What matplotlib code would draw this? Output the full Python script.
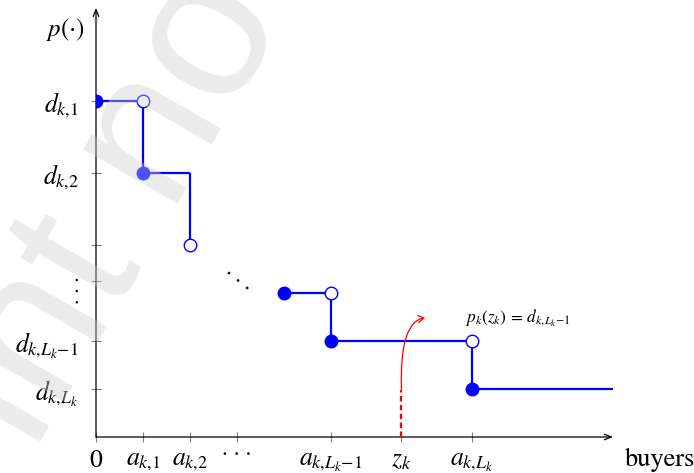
import matplotlib
matplotlib.use("Agg")
import matplotlib.pyplot as plt
from matplotlib.patches import FancyArrowPatch, Rectangle
from matplotlib.path import Path

plt.rcParams['mathtext.fontset'] = 'stix'
plt.rcParams['font.family'] = 'STIXGeneral'

# Treppenfunktion p(.)
step_left = [0, 1, 4, 5, 8]
step_right = [1, 2, 5, 8, 11]
step_price = [7, 5.5, 3, 2, 1]
drop_x = [1, 2, 5, 8]
drop_top = [7, 5.5, 3, 2]
drop_bottom = [5.5, 4, 2, 1]
open_x = [1, 2, 5, 8]
open_y = [7, 4, 3, 2]

# Achsenbeschriftungen ({,} und {-} ohne Extra-Abstand wie in LaTeX)
dots = '\u00b7 \u00b7 \u00b7'
xtick_pos = [0, 1, 2, 3, 5, 6.5, 8]
xtick_labels = ['$0$', '$a_{k{,}1}$', '$a_{k{,}2}$', '', '$a_{k{,}L_k{-}1}$', '$z_k$', '$a_{k{,}L_k}$']
ytick_pos = [7, 5.5, 4, 3.25, 2, 1]
ytick_labels = ['$d_{k{,}1}$', '$d_{k{,}2}$', '', '', '$d_{k{,}L_k{-}1}$', '$d_{k{,}L_k}$']

# z_k und der rote Pfeil
z_k = 6.5
z_top = 0.98
curve_ctrl = (6.45, 2.4)
curve_end = (7.0, 2.48)
x_max = 11.0
y_max = 8.94

blue = '#0000ff'

fig = plt.figure(figsize=(6.94, 4.73), dpi=100)
ax = fig.add_axes([0, 0, 1, 1])
ax.set_xlim(-96 / 47, 598 / 47)
ax.set_ylim(-36 / 48, 437 / 48)

for s in ['top', 'right']:
    ax.spines[s].set_visible(False)
for s in ['left', 'bottom']:
    ax.spines[s].set_position(('data', 0))
    ax.spines[s].set_color('none')

ax.set_xticks(xtick_pos, xtick_labels)
ax.set_yticks(ytick_pos, ytick_labels)
ax.tick_params(axis='both', direction='inout', length=7, width=0.8, color='#808080', labelsize=18.5)
ax.tick_params(axis='x', pad=5)
ax.tick_params(axis='y', pad=9)

# Achsen mit Pfeilspitzen
ax.annotate('', xy=(x_max, 0), xytext=(0, 0),
            arrowprops=dict(arrowstyle='->,head_length=0.5,head_width=0.2', lw=0.9, color='black',
                            shrinkA=0, shrinkB=0))
ax.annotate('', xy=(0, y_max), xytext=(0, 0),
            arrowprops=dict(arrowstyle='->,head_length=0.5,head_width=0.2', lw=0.9, color='black',
                            shrinkA=0, shrinkB=0))

clip = Rectangle((0, -1), 20, 20, transform=ax.transData)

arts = []
arts += ax.hlines(step_price, step_left, step_right, color=blue, lw=1.6, zorder=3),
arts += ax.vlines(drop_x, drop_bottom, drop_top, color=blue, lw=1.6, zorder=3),
arts += ax.plot(step_left, step_price, 'o', color=blue, ms=9, zorder=4)
arts += ax.plot(open_x, open_y, 'o', mfc='white', mec=blue, mew=1.0, ms=9, zorder=4)
for a in arts:
    a.set_clip_path(clip)

# Punkte: cdots unter der x-Achse, vdots an der y-Achse, ddots in der Mitte
ax.text(3, -0.48, dots, ha='center', va='baseline', fontsize=17)
ax.text(-0.383, 3.07, dots, rotation=90, ha='center', va='center', fontsize=16)
ax.text(3, 3.25, dots, rotation=-39, ha='center', va='center', fontsize=17)

# rote gestrichelte Linie bei z_k
ax.plot([z_k, z_k], [0, z_top], color='red', lw=1.6, ls=(0, (2.5, 1.5)), zorder=3)
curve = Path([(z_k, z_top), curve_ctrl, curve_end], [Path.MOVETO, Path.CURVE3, Path.CURVE3])
ax.add_patch(FancyArrowPatch(path=curve, arrowstyle='->,head_length=4,head_width=2.5',
                             color='red', lw=0.9, zorder=5))

ax.text(8.98, 2.48, r'$p_k(z_k)\,=\,d_{k{,}L_k{-}1}$', ha='center', va='center', fontsize=12.5)
ax.text(11.26, -0.6, 'buyers', fontsize=19, va='baseline')
ax.text(-0.23, 8.36, r'$p(\cdot)$', ha='right', va='baseline', fontsize=18)

# Wasserzeichen
fig.text(0.555, 1.33, 'Preprint not peer reviewed', family='Liberation Sans', fontsize=148,
         rotation=60, rotation_mode='anchor', ha='center', va='baseline',
         color='#cdcdcd', alpha=0.4, zorder=10)

fig.savefig('out.png', dpi=100)
